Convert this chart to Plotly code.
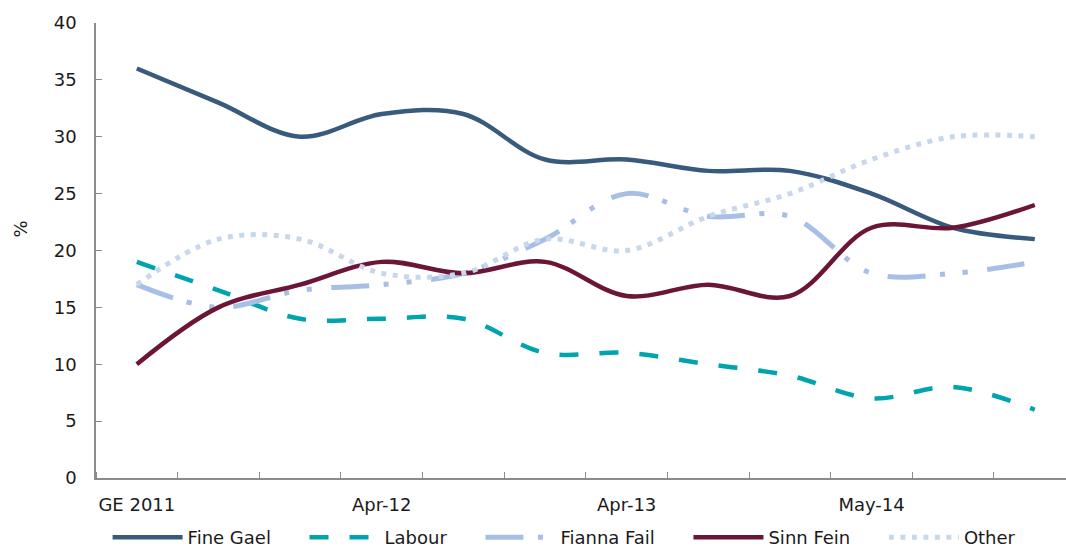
import plotly.graph_objects as go

# ---- data ----
periods = ["GE 2011", "", "", "Apr-12", "", "", "Apr-13", "", "", "May-14", "", ""]
tick_labels = ["GE 2011", "Apr-12", "Apr-13", "May-14"]
tick_index = [0, 3, 6, 9]

fine_gael   = [36, 33, 30, 32, 32, 28, 28, 27, 27, 25, 22, 21]
labour      = [19, 16.5, 14, 14, 14, 11, 11, 10, 9, 7, 8, 6]
fianna_fail = [17, 15, 16.5, 17, 18, 21, 25, 23, 23, 18, 18, 19]
sinn_fein   = [10, 15, 17, 19, 18, 19, 16, 17, 16, 22, 22, 24]
other       = [17, 21, 21, 18, 18, 21, 20, 23, 25, 28, 30, 30]

x = list(range(len(periods)))

series = [
    ("Fine Gael", fine_gael, "#385A7C", "solid", 4.5),
    ("Labour", labour, "#00A3AE", "19px,21px", 4.5),
    ("Fianna Fail", fianna_fail, "#A7BFE4", "38px,14.5px,5px,18px,5px,19.5px", 5),
    ("Sinn Fein", sinn_fein, "#6B1636", "solid", 4.5),
    ("Other", other, "#C7D7EC", "5px,6.5px", 5),
]

FONT = "DejaVu Sans, Verdana, sans-serif"
PAD = "\u00a0" * 5  # spacing between legend entries

fig = go.Figure()
for name, vals, color, dash, w in series:
    fig.add_trace(go.Scatter(
        x=x, y=vals, name=name + PAD, mode="lines",
        line=dict(color=color, width=w, dash=dash, shape="spline", smoothing=1),
    ))

W, H = 1066, 547
L, R, T, B = 96.4, 0, 23, 69
pw = W - L - R
ph = H - T - B
cat_w = 81.6
xmax = -0.5 + pw / cat_w

fig.update_layout(
    width=W, height=H,
    margin=dict(l=L, r=R, t=T, b=B, pad=0, autoexpand=False),
    paper_bgcolor="white", plot_bgcolor="white",
    font=dict(family=FONT, size=18, color="#1a1a1a"),
    showlegend=True,
    legend=dict(
        orientation="h",
        x=(108 - L) / pw, xanchor="left",
        y=(T + ph - 519) / ph, yanchor="top",
        itemwidth=70,
        font=dict(family=FONT, size=18, color="#1a1a1a"),
        bgcolor="rgba(0,0,0,0)",
        tracegroupgap=0,
    ),
    xaxis=dict(
        range=[-0.5, xmax], automargin=False,
        tickmode="array", tickvals=tick_index, ticktext=tick_labels,
        ticks="", showgrid=False, zeroline=False,
        showline=True, linecolor="#8C8C8C", linewidth=1.5,
        minor=dict(tick0=0.5, dtick=1, ticks="inside", ticklen=6,
                   tickcolor="#8C8C8C", tickwidth=1.3, showgrid=False),
        ticklabelstandoff=10,
        tickfont=dict(family=FONT, size=18, color="#1a1a1a"),
    ),
    yaxis=dict(
        range=[0, 40], tickmode="linear", tick0=0, dtick=5, automargin=False,
        ticks="inside", ticklen=6, tickcolor="#8C8C8C", tickwidth=1.3,
        showline=True, linecolor="#8C8C8C", linewidth=1.5,
        showgrid=False, zeroline=False,
        ticklabelstandoff=14,
        tickfont=dict(family=FONT, size=18, color="#1a1a1a"),
    ),
    annotations=[dict(
        text="%", textangle=-90, showarrow=False,
        xref="paper", yref="paper",
        x=(21 - L) / pw, y=(T + ph - 229) / ph,
        xanchor="center", yanchor="middle",
        font=dict(family=FONT, size=18, color="#1a1a1a"),
    )],
)

fig.write_html("out.html")
